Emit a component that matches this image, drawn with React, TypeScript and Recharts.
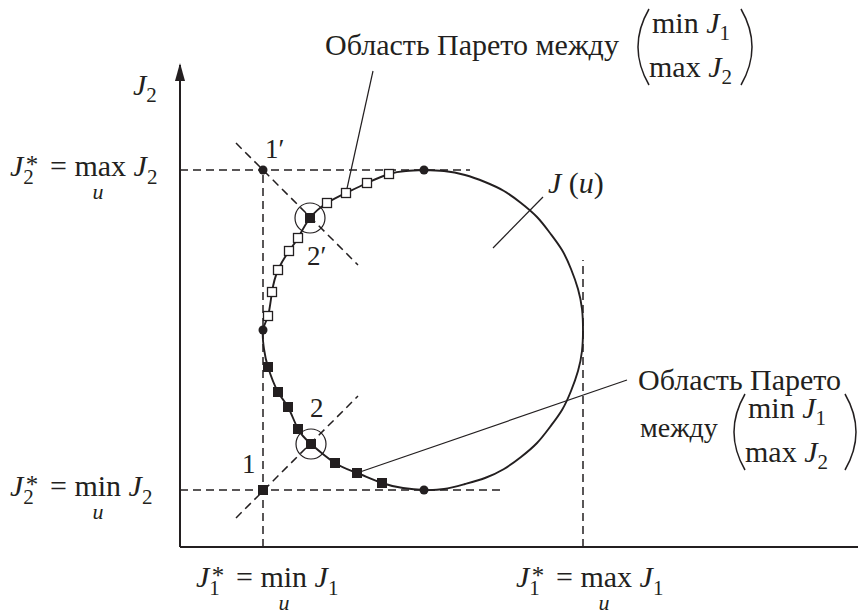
import React from "react";
import {
  ComposedChart,
  XAxis,
  YAxis,
  Line,
  Scatter,
  ReferenceLine,
  ReferenceDot,
} from "recharts";

// --- Data (J1 along x, J2 along y, arbitrary units) ---

const X_DOMAIN: [number, number] = [0, 67.8];
const Y_DOMAIN: [number, number] = [0, 48.2];

const J1_MIN = 8.3;
const J1_MAX = 40.3;
const J2_MIN = 5.7;
const J2_MAX = 37.7;

const j1Ticks = [J1_MIN, J1_MAX];
const j1TickOps = ["min", "max"];
const j2Ticks = [J2_MIN, J2_MAX];
const j2TickOps = ["min", "max"];

// boundary of the attainable set J(u), counter-clockwise from the top
const boundary = [
  { x: 24.4, y: 37.7 },
  { x: 22.6, y: 37.6 },
  { x: 20.9, y: 37.3 },
  { x: 18.7, y: 36.4 },
  { x: 16.6, y: 35.4 },
  { x: 14.7, y: 34.4 },
  { x: 13.0, y: 32.9 },
  { x: 11.8, y: 30.9 },
  { x: 10.9, y: 29.6 },
  { x: 9.8, y: 27.7 },
  { x: 9.2, y: 25.5 },
  { x: 8.8, y: 23.1 },
  { x: 8.3, y: 21.7 },
  { x: 8.4, y: 19.8 },
  { x: 8.8, y: 18.0 },
  { x: 9.8, y: 15.5 },
  { x: 10.8, y: 14.0 },
  { x: 11.8, y: 11.8 },
  { x: 13.1, y: 10.3 },
  { x: 15.5, y: 8.4 },
  { x: 17.7, y: 7.4 },
  { x: 20.2, y: 6.4 },
  { x: 22.3, y: 5.9 },
  { x: 24.4, y: 5.7 },
  { x: 26.4, y: 5.8 },
  { x: 28.5, y: 6.3 },
  { x: 30.5, y: 6.9 },
  { x: 32.4, y: 7.8 },
  { x: 34.1, y: 9.0 },
  { x: 35.7, y: 10.4 },
  { x: 37.0, y: 12.0 },
  { x: 38.2, y: 13.7 },
  { x: 39.1, y: 15.6 },
  { x: 39.8, y: 17.6 },
  { x: 40.2, y: 19.6 },
  { x: 40.3, y: 21.7 },
  { x: 40.2, y: 23.8 },
  { x: 39.8, y: 25.8 },
  { x: 39.1, y: 27.8 },
  { x: 38.2, y: 29.7 },
  { x: 37.0, y: 31.4 },
  { x: 35.7, y: 33.0 },
  { x: 34.1, y: 34.4 },
  { x: 32.4, y: 35.6 },
  { x: 30.5, y: 36.5 },
  { x: 28.5, y: 37.2 },
  { x: 26.4, y: 37.6 },
  { x: 24.4, y: 37.7 },
];

const P1 = { x: J1_MIN, y: J2_MIN };
const P1p = { x: J1_MIN, y: J2_MAX };
const P2 = { x: 13.1, y: 10.3 };
const P2p = { x: 13.0, y: 32.9 };

// extreme points of J(u)
const extremeDots = [
  { x: 24.4, y: 37.7 },
  { x: 24.4, y: 5.7 },
  { x: 8.3, y: 21.7 },
  P1p,
];

// Pareto set (min J1, max J2)
const paretoUpper = [
  { x: 20.9, y: 37.3 },
  { x: 18.7, y: 36.4 },
  { x: 16.6, y: 35.4 },
  { x: 14.7, y: 34.4 },
  { x: 11.8, y: 30.9 },
  { x: 10.9, y: 29.6 },
  { x: 9.8, y: 27.7 },
  { x: 9.2, y: 25.5 },
  { x: 8.8, y: 23.1 },
];

// Pareto set (min J1, min J2)
const paretoLower = [
  { x: 8.8, y: 18.0 },
  { x: 9.8, y: 15.5 },
  { x: 10.8, y: 14.0 },
  { x: 11.8, y: 11.8 },
  { x: 15.5, y: 8.4 },
  { x: 17.7, y: 7.4 },
  { x: 20.2, y: 6.4 },
];

const keyPoints = [P1, P2, P2p];
const ringed = [P2, P2p];

// [x1, y1, x2, y2]
const dashedGuides = [
  [0, J2_MAX, 29.0, J2_MAX],
  [0, J2_MIN, 32.2, J2_MIN],
  [J1_MIN, 0, J1_MIN, J2_MAX],
  [J1_MAX, 0, J1_MAX, 28.7],
  [5.6, 40.4, 17.8, 28.2],
  [5.6, 2.9, 17.8, 15.1],
];

const leaderTop = [19.3, 47.6, 16.6, 35.4];
const leaderCurve = [36.3, 35.0, 31.3, 29.9];
const leaderLower = [17.7, 7.4, 44.7, 16.7];
const leaders = [leaderTop, leaderCurve, leaderLower];

// --- Drawing ---

const FONT = '"Liberation Serif", "Times New Roman", serif';
const INK = "#231f20";
const FS = 30;
const SUB = 21;

// J*_i = op_u J_i
function Formula({ x, y, idx, op }: { x: number; y: number; idx: string; op: string }) {
  return (
    <g fontFamily={FONT} fill={INK}>
      <text x={x} y={y} fontSize={FS}>
        <tspan fontStyle="italic">J</tspan>
        <tspan fontSize={SUB} dy={8}>{idx}</tspan>
        <tspan fontSize={25} dx={-8} dy={-11}>*</tspan>
        <tspan x={x + 40} dy={3}>= {op} </tspan>
        <tspan fontStyle="italic">J</tspan>
        <tspan fontSize={SUB} dy={8}>{idx}</tspan>
      </text>
      <text x={x + 88} y={y + 23} fontSize={22} fontStyle="italic" textAnchor="middle">u</text>
    </g>
  );
}

const J1Tick = (props: any) => {
  const { x, y, payload } = props;
  const op = j1TickOps[j1Ticks.indexOf(payload.value)];
  return <Formula x={x - 67} y={y + 40} idx="1" op={op} />;
};

const J2Tick = (props: any) => {
  const { x, y, payload } = props;
  const op = j2TickOps[j2Ticks.indexOf(payload.value)];
  return <Formula x={x - 170} y={y + 6} idx="2" op={op} />;
};

function Bracket({ x, cy, w }: { x: number; cy: number; w: number }) {
  const top = cy - 38;
  const bottom = cy + 38;
  return (
    <g fontFamily={FONT} fill={INK}>
      <path d={`M${x + 12},${top} Q${x - 10},${cy} ${x + 12},${bottom}`} fill="none" stroke={INK} strokeWidth={1.5} />
      <path d={`M${x + w - 12},${top} Q${x + w + 10},${cy} ${x + w - 12},${bottom}`} fill="none" stroke={INK} strokeWidth={1.5} />
      <text x={x + 15} y={cy - 14} fontSize={FS}>
        min <tspan fontStyle="italic">J</tspan>
        <tspan fontSize={SUB} dy={7}>1</tspan>
      </text>
      <text x={x + 12} y={cy + 30} fontSize={FS}>
        max <tspan fontStyle="italic">J</tspan>
        <tspan fontSize={SUB} dy={7}>2</tspan>
      </text>
    </g>
  );
}

const TopNote = ({ cx, cy }: any) => (
  <g>
    <text x={cx - 48} y={cy - 16} fontFamily={FONT} fontSize={FS} fill={INK}>Область Парето между</text>
    <Bracket x={cx + 264} cy={cy - 24} w={116} />
  </g>
);

const LowerNote = ({ cx, cy }: any) => (
  <g fontFamily={FONT} fill={INK}>
    <text x={cx + 11} y={cy + 10} fontSize={FS}>Область Парето</text>
    <text x={cx + 13} y={cy + 57} fontSize={28}>между</text>
    <Bracket x={cx + 106} cy={cy + 52} w={124} />
  </g>
);

const CurveName = ({ cx, cy }: any) => (
  <text x={cx + 5} y={cy - 4} fontFamily={FONT} fontSize={FS} fill={INK}>
    <tspan fontStyle="italic">J</tspan> (<tspan fontStyle="italic">u</tspan>)
  </text>
);

const AxisArrow = ({ cx, cy }: any) => (
  <g>
    <polygon points={`${cx},${cy - 2} ${cx - 5},${cy + 16} ${cx + 5},${cy + 16}`} fill={INK} />
    <text x={cx - 47} y={cy + 30} fontFamily={FONT} fontSize={FS} fill={INK}>
      <tspan fontStyle="italic">J</tspan>
      <tspan fontSize={SUB} dy={7}>2</tspan>
    </text>
  </g>
);

const pointLabel = (text: string, dx: number, dy: number) => ({ cx, cy }: any) => (
  <text x={cx + dx} y={cy + dy} fontFamily={FONT} fontSize={27} fill={INK}>{text}</text>
);

const HollowSquare = ({ cx, cy }: any) => (
  <rect x={cx - 4.5} y={cy - 4.5} width={9} height={9} fill="#fff" stroke={INK} strokeWidth={1.3} />
);
const FilledSquare = ({ cx, cy }: any) => (
  <rect x={cx - 5} y={cy - 5} width={10} height={10} fill={INK} />
);
const FilledDot = ({ cx, cy }: any) => <circle cx={cx} cy={cy} r={4.5} fill={INK} />;
const Ring = ({ cx, cy }: any) => (
  <circle cx={cx} cy={cy} r={15} fill="none" stroke={INK} strokeWidth={1.2} />
);

export default function App() {
  return (
    <div style={{ position: "absolute", left: 0, top: 0, width: 858, height: 614, background: "#fff" }}>
      <ComposedChart width={858} height={614} margin={{ top: 65, right: 0, bottom: 0, left: 0 }}>
        <XAxis
          type="number"
          dataKey="x"
          domain={X_DOMAIN}
          allowDataOverflow
          ticks={j1Ticks}
          interval={0}
          tick={<J1Tick />}
          tickLine={false}
          tickSize={0}
          tickMargin={0}
          height={67}
          axisLine={{ stroke: INK, strokeWidth: 2 }}
        />
        <YAxis
          type="number"
          dataKey="y"
          domain={Y_DOMAIN}
          allowDataOverflow
          ticks={j2Ticks}
          interval={0}
          tick={<J2Tick />}
          tickLine={false}
          tickSize={0}
          tickMargin={0}
          width={180}
          axisLine={{ stroke: INK, strokeWidth: 2 }}
        />

        {dashedGuides.map(([x1, y1, x2, y2], i) => (
          <ReferenceLine
            key={`guide-${i}`}
            segment={[{ x: x1, y: y1 }, { x: x2, y: y2 }]}
            stroke={INK}
            strokeWidth={1.5}
            strokeDasharray="8 5"
            ifOverflow="visible"
          />
        ))}
        {leaders.map(([x1, y1, x2, y2], i) => (
          <ReferenceLine
            key={`leader-${i}`}
            segment={[{ x: x1, y: y1 }, { x: x2, y: y2 }]}
            stroke={INK}
            strokeWidth={1.2}
            ifOverflow="visible"
          />
        ))}

        <Line
          data={boundary}
          dataKey="y"
          type="natural"
          stroke={INK}
          strokeWidth={1.9}
          dot={false}
          activeDot={false}
          isAnimationActive={false}
        />

        <Scatter data={ringed} shape={Ring} isAnimationActive={false} />
        <Scatter data={paretoUpper} shape={HollowSquare} isAnimationActive={false} />
        <Scatter data={paretoLower} shape={FilledSquare} isAnimationActive={false} />
        <Scatter data={keyPoints} shape={FilledSquare} isAnimationActive={false} />
        <Scatter data={extremeDots} shape={FilledDot} isAnimationActive={false} />

        <ReferenceDot x={0} y={Y_DOMAIN[1]} ifOverflow="visible" shape={AxisArrow} />
        <ReferenceDot x={P1p.x} y={P1p.y} ifOverflow="visible" shape={pointLabel("1′", 2, -12)} />
        <ReferenceDot x={P2p.x} y={P2p.y} ifOverflow="visible" shape={pointLabel("2′", -3, 47)} />
        <ReferenceDot x={P1.x} y={P1.y} ifOverflow="visible" shape={pointLabel("1", -21, -17)} />
        <ReferenceDot x={P2.x} y={P2.y} ifOverflow="visible" shape={pointLabel("2", -1, -27)} />
        <ReferenceDot x={leaderTop[0]} y={leaderTop[1]} ifOverflow="visible" shape={TopNote} />
        <ReferenceDot x={leaderCurve[0]} y={leaderCurve[1]} ifOverflow="visible" shape={CurveName} />
        <ReferenceDot x={leaderLower[2]} y={leaderLower[3]} ifOverflow="visible" shape={LowerNote} />
      </ComposedChart>
    </div>
  );
}
